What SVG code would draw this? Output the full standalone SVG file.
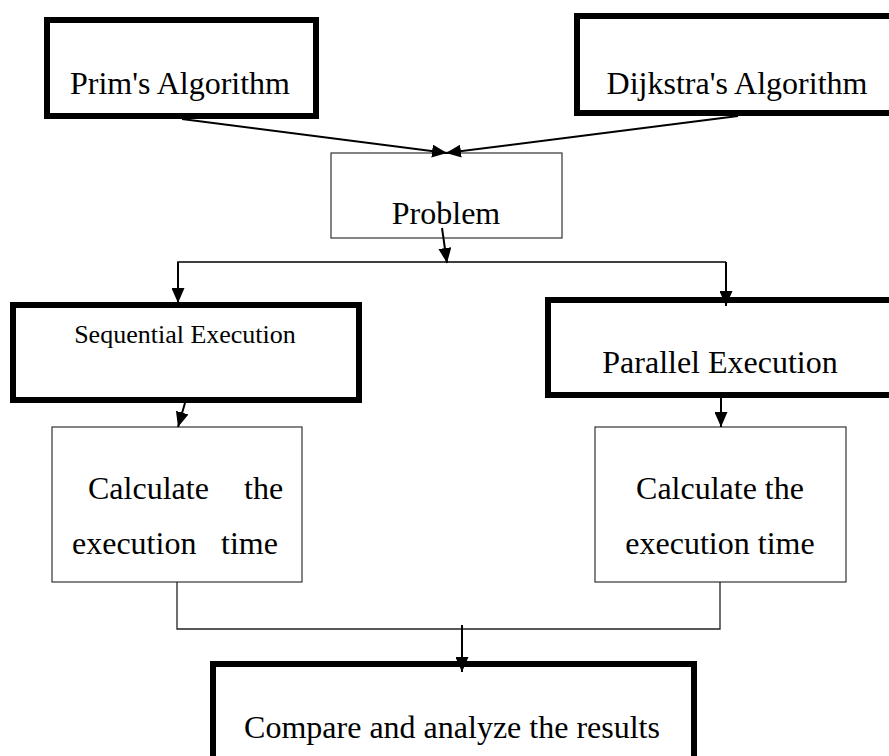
<svg xmlns="http://www.w3.org/2000/svg" width="889" height="756" viewBox="0 0 889 756">
<style>
.thick{fill:#fff;stroke:#000;stroke-width:6}
.thin{fill:#fff;stroke:#333;stroke-width:1.2}
.t{font-family:"Liberation Serif","Times New Roman",serif;font-size:32px;fill:#000}
.s{font-size:26px}
.c{stroke:#000;stroke-width:2;fill:none}
.l{stroke:#222;stroke-width:1.3;fill:none}
</style>
<defs>
<marker id="ah" viewBox="0 0 15 13" refX="15" refY="6.5" markerWidth="15" markerHeight="13" markerUnits="userSpaceOnUse" orient="auto">
<path d="M0,0 L15,6.5 L0,13 Z" fill="#000"/>
</marker>
</defs>
<rect width="889" height="756" fill="#fff"/>
<g id="prim">
<rect class="thick" x="47" y="20" width="269" height="96"/>
<text class="t" x="180" y="94" text-anchor="middle">Prim's Algorithm</text>
</g>
<g id="dijkstra">
<rect class="thick" x="577" y="16" width="330" height="97"/>
<text class="t" x="737" y="94" text-anchor="middle">Dijkstra's Algorithm</text>
</g>
<g id="problem">
<rect class="thin" x="331" y="153" width="231" height="85"/>
<text class="t" x="446" y="224" text-anchor="middle">Problem</text>
</g>
<g id="sequential">
<rect class="thick" x="13" y="305" width="346" height="95"/>
<text class="t s" x="185" y="343" text-anchor="middle">Sequential Execution</text>
</g>
<g id="parallel">
<rect class="thick" x="548" y="300" width="360" height="95"/>
<text class="t" x="720" y="373" text-anchor="middle">Parallel Execution</text>
</g>
<g id="calc-seq">
<rect class="thin" x="52" y="427" width="250" height="155"/>
<text class="t" x="88" y="499">Calculate</text>
<text class="t" x="244" y="499">the</text>
<text class="t" x="72" y="554">execution</text>
<text class="t" x="221" y="554">time</text>
</g>
<g id="calc-par">
<rect class="thin" x="595" y="427" width="251" height="155"/>
<text class="t" x="720" y="499" text-anchor="middle">Calculate the</text>
<text class="t" x="720" y="554" text-anchor="middle">execution time</text>
</g>
<g id="compare">
<rect class="thick" x="213" y="664" width="481" height="110"/>
<text class="t" x="452" y="738" text-anchor="middle">Compare and analyze the results</text>
</g>
<g id="connectors">
<line class="c" x1="182" y1="119" x2="447" y2="153" marker-end="url(#ah)"/>
<line class="c" x1="738" y1="116" x2="446" y2="153" marker-end="url(#ah)"/>
<line class="c" x1="442" y1="228" x2="447" y2="263" marker-end="url(#ah)"/>
<polyline class="c" points="178,263 178,262 726,262" style="stroke-width:1.5"/>
<line class="c" x1="178" y1="262" x2="178" y2="303" marker-end="url(#ah)"/>
<line class="c" x1="726" y1="262" x2="726" y2="306" marker-end="url(#ah)"/>
<line class="c" x1="185" y1="403" x2="178" y2="427" marker-end="url(#ah)"/>
<line class="c" x1="721" y1="398" x2="721" y2="427" marker-end="url(#ah)"/>
<polyline class="l" points="177,582 177,629 720,629 720,582"/>
<line class="c" x1="462" y1="625" x2="462" y2="672" marker-end="url(#ah)"/>
</g>
</svg>
